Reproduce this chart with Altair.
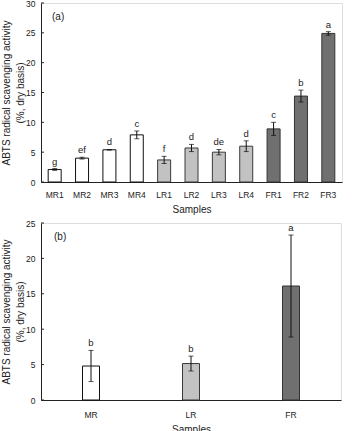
import altair as alt
import pandas as pd

# Panel (a)
samples_a = ["MR1", "MR2", "MR3", "MR4", "LR1", "LR2", "LR3", "LR4", "FR1", "FR2", "FR3"]
groups_a = ["MR", "MR", "MR", "MR", "LR", "LR", "LR", "LR", "FR", "FR", "FR"]
values_a = [2.1, 4.0, 5.4, 7.9, 3.7, 5.7, 5.0, 6.0, 8.9, 14.4, 24.9]
errors_a = [0.15, 0.15, 0.05, 0.65, 0.6, 0.6, 0.45, 0.9, 1.1, 1.0, 0.3]
letters_a = ["g", "ef", "d", "c", "f", "d", "de", "d", "c", "b", "a"]
yticks_a = [0, 5, 10, 15, 20, 25, 30]

# Panel (b)
samples_b = ["MR", "LR", "FR"]
values_b = [4.8, 5.15, 16.1]
errors_b = [2.2, 1.05, 7.2]
letters_b = ["b", "b", "a"]
yticks_b = [0, 5, 10, 15, 20, 25]

group_order = ["MR", "LR", "FR"]
fills = ["#ffffff", "#c2c2c2", "#707070"]
strokes = ["#111111", "#3a3a3a", "#333333"]

FONT = "Liberation Sans"
ytitle = ["ABTS radical scavenging activity", "(%, dry basis)"]

df_a = pd.DataFrame({"s": samples_a, "g": groups_a, "v": values_a, "e": errors_a, "l": letters_a})
df_a["lo"] = df_a["v"] - df_a["e"]
df_a["hi"] = df_a["v"] + df_a["e"]
df_b = pd.DataFrame({"s": samples_b, "g": samples_b, "v": values_b, "e": errors_b, "l": letters_b})
df_b["lo"] = df_b["v"] - df_b["e"]
df_b["hi"] = df_b["v"] + df_b["e"]


def panel(df, order, ymax, yticks, w, h, barsize, tag, lab_pad, tag_x):
    xaxis = alt.Axis(title="Samples", labelAngle=0, ticks=False, labelPadding=lab_pad,
                     titlePadding=6, labelFontSize=8.5, titleFontSize=10,
                     titleFontWeight="normal", domainColor="#222222",
                     labelColor="#222222", titleColor="#222222")
    xscale = alt.Scale(domain=order)
    yscale = alt.Scale(domain=[0, ymax], nice=False)
    yaxis = alt.Axis(title=ytitle, values=yticks, ticks=False, grid=False, labelPadding=6,
                     labelFontSize=8.5, titleFontSize=10, titleFontWeight="normal",
                     titleLineHeight=14, titleBaseline="middle", titleX=-35, titleY=h / 2,
                     domainColor="#222222", labelColor="#222222", titleColor="#222222")
    bars = alt.Chart(df).mark_bar(size=barsize, strokeWidth=1).encode(
        x=alt.X("s:N", scale=xscale, axis=xaxis),
        y=alt.Y("v:Q", scale=yscale, axis=yaxis),
        fill=alt.Fill("g:N", scale=alt.Scale(domain=group_order, range=fills), legend=None),
        stroke=alt.Stroke("g:N", scale=alt.Scale(domain=group_order, range=strokes), legend=None),
    )
    err = alt.Chart(df).mark_errorbar(ticks=alt.MarkConfig(size=5, color="#111111"),
                                      color="#111111", thickness=1).encode(
        x=alt.X("s:N", scale=xscale, axis=xaxis),
        y=alt.Y("lo:Q", scale=yscale, axis=yaxis),
        y2="hi:Q",
    )
    txt = alt.Chart(df).mark_text(baseline="bottom", dy=-2, fontSize=9.5, font=FONT,
                                  color="#222222").encode(
        x=alt.X("s:N", scale=xscale, axis=xaxis),
        y=alt.Y("hi:Q", scale=yscale, axis=yaxis),
        text="l:N",
    )
    tk = alt.Chart(pd.DataFrame({"t": yticks})).mark_rule(color="#222222").encode(
        y=alt.Y("t:Q", scale=yscale, axis=yaxis),
        x=alt.value(0), x2=alt.value(3),
    )
    label = alt.Chart(pd.DataFrame({"t": [tag]})).mark_text(
        align="left", baseline="middle", fontSize=10, font=FONT, color="#222222").encode(
        x=alt.value(tag_x), y=alt.value(14), text="t:N")
    return alt.layer(bars, err, txt, tk, label).properties(width=w, height=h)


pa = panel(df_a, samples_a, 30, yticks_a, 301, 179, 13, "(a)", 8, 11)
pb = panel(df_b, samples_b, 25, yticks_b, 300, 177, 17, "(b)", 10, 13)

chart = alt.vconcat(pa, pb, spacing=41, bounds="flush").properties(
    padding={"left": 0, "top": -2, "right": 0, "bottom": 0},
    background="white",
).configure_view(stroke="#888888", strokeWidth=1).configure(font=FONT)

chart.save("out.html", embed_options={"renderer": "svg", "actions": False})
